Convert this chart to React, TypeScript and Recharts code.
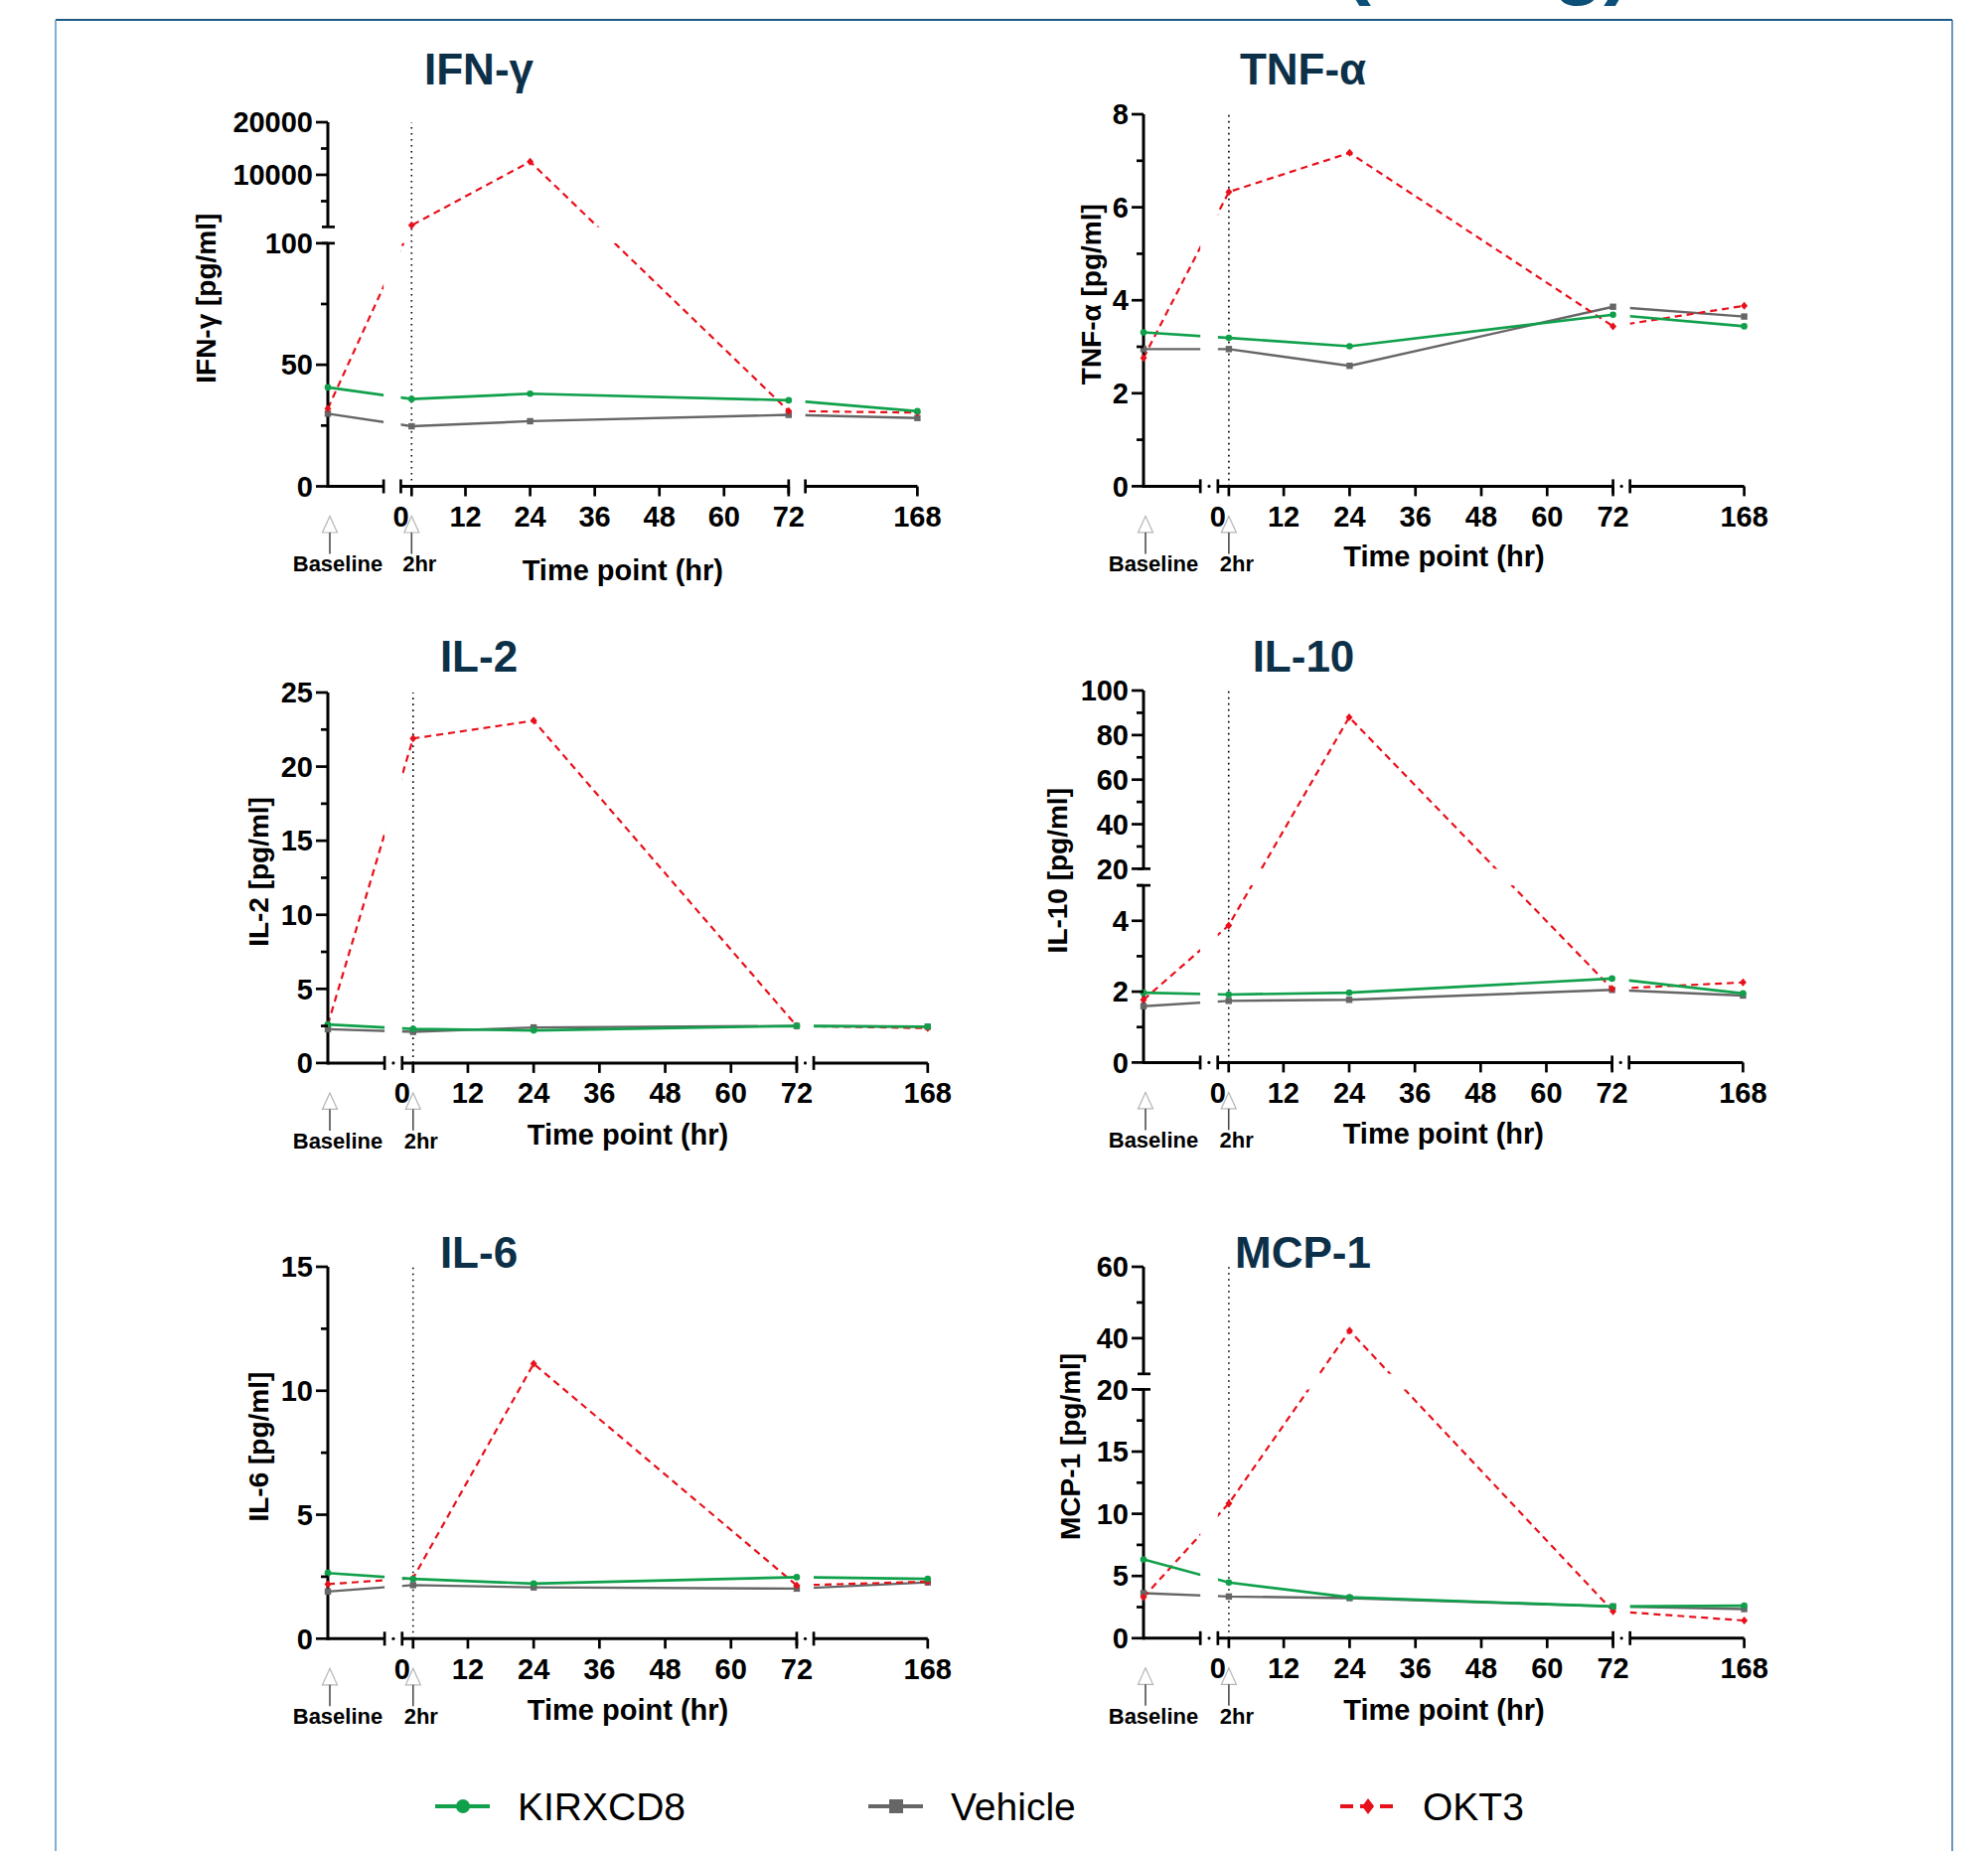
import React from 'react'
import { LineChart, Line, XAxis, YAxis, ReferenceLine, ReferenceArea } from 'recharts'

const FONT = "'Liberation Sans', Arial, Helvetica, sans-serif"
const GREEN = '#10a04b'
const GRAY = '#666666'
const RED = '#e8101a'
const NAVY = '#0d3049'

// sampling times (Baseline = pre-dose)
const timepoints: (string | number)[] = ['Baseline', 2, 24, 72, 168]
const groups = ['KIRXCD8', 'Vehicle', 'OKT3']
const xTickHours = [0, 12, 24, 36, 48, 60, 72, 168]

// pg/ml, one value per timepoint
const ifngKirxcd8 = [40.7, 35.9, 38.1, 35.4, 30.9]
const ifngVehicle = [29.9, 24.7, 26.8, 29.4, 28.1]
const ifngOkt3 = [32, 400, 12500, 31, 30.3]
const ifngMajorTicks = [0, 50, 100, 10000, 20000]
const ifngMinorTicks = [25, 75, 5000, 15000]

const tnfKirxcd8 = [3.31, 3.19, 3.01, 3.69, 3.44]
const tnfVehicle = [2.95, 2.95, 2.59, 3.86, 3.65]
const tnfOkt3 = [2.76, 6.33, 7.17, 3.44, 3.88]
const tnfMajorTicks = [0, 2, 4, 6, 8]
const tnfMinorTicks = [1, 3, 5, 7]

const il2Kirxcd8 = [2.6, 2.3, 2.2, 2.5, 2.45]
const il2Vehicle = [2.28, 2.1, 2.4, 2.5, 2.45]
const il2Okt3 = [2.6, 21.9, 23.1, 2.5, 2.35]
const il2MajorTicks = [0, 5, 10, 15, 20, 25]
const il2MinorTicks = [2.5, 7.5, 12.5, 17.5, 22.5]

const il10Kirxcd8 = [1.97, 1.92, 1.97, 2.37, 1.95]
const il10Vehicle = [1.59, 1.74, 1.77, 2.05, 1.89]
const il10Okt3 = [1.77, 3.87, 88, 2.08, 2.26]
const il10MajorTicks = [0, 2, 4, 20, 40, 60, 80, 100]
const il10MinorTicks = [1, 3, 5, 30, 50, 70, 90]

const il6Kirxcd8 = [2.65, 2.41, 2.22, 2.48, 2.41]
const il6Vehicle = [1.9, 2.16, 2.07, 2.02, 2.27]
const il6Okt3 = [2.2, 2.44, 11.09, 2.15, 2.3]
const il6MajorTicks = [0, 5, 10, 15]
const il6MinorTicks = [2.5, 7.5, 12.5]

const mcp1Kirxcd8 = [6.33, 4.47, 3.29, 2.55, 2.61]
const mcp1Vehicle = [3.62, 3.35, 3.22, 2.55, 2.34]
const mcp1Okt3 = [3.29, 10.83, 42.1, 2.17, 1.42]
const mcp1MajorTicks = [0, 5, 10, 15, 20, 40, 60]
const mcp1MinorTicks = [2.5, 7.5, 12.5, 17.5, 50]

// broken x axis: Baseline | 0..72 | 168, expressed in "hour units" of the middle segment
const X_BASE = -13.55
const X_GAP_L = -3.2
const X_GAP_R = 75.1
const X_END = 95.9

function toU(t: string | number): number {
  if (typeof t === 'string') return X_BASE
  if (t <= 72) return t
  return X_GAP_R + ((t - 72) / (168 - 72)) * (X_END - X_GAP_R)
}

// broken y axis: each segment maps a value range to pixels above the x axis
type Seg = { v0: number; v1: number; d0: number; d1: number }

function toD(v: number, segs: Seg[]): number {
  for (let i = 0; i < segs.length; i++) {
    const s = segs[i]
    if (v <= s.v1 || i === segs.length - 1) return s.d0 + ((v - s.v0) / (s.v1 - s.v0)) * (s.d1 - s.d0)
  }
  return 0
}

interface PanelCfg {
  title: string
  axisLabel: string
  series: number[][]
  major: number[]
  minor: number[]
  segs: Seg[]
  left: number
  top: number
  width: number
  height: number
  titleX: number
  titleY: number
  labelDx: number
  timeDy: number
  breakDots: boolean
}

const panels: PanelCfg[] = [
  {
    title: 'IFN-γ', axisLabel: 'IFN-γ [pg/ml]', series: [ifngKirxcd8, ifngVehicle, ifngOkt3],
    major: ifngMajorTicks, minor: ifngMinorTicks,
    segs: [{ v0: 0, v1: 100, d0: 0, d1: 244.7 }, { v0: 100, v1: 20000, d0: 261.1, d1: 366.5 }],
    left: 329.7, top: 122.6, width: 593.4, height: 366.5, titleX: 482, titleY: 85, labelDx: 112.7, timeDy: 94.5, breakDots: false,
  },
  {
    title: 'TNF-α', axisLabel: 'TNF-α [pg/ml]', series: [tnfKirxcd8, tnfVehicle, tnfOkt3],
    major: tnfMajorTicks, minor: tnfMinorTicks,
    segs: [{ v0: 0, v1: 8, d0: 0, d1: 374.4 }],
    left: 1150.7, top: 114.7, width: 604.6, height: 374.4, titleX: 1311.5, titleY: 85, labelDx: 43, timeDy: 80.5, breakDots: true,
  },
  {
    title: 'IL-2', axisLabel: 'IL-2 [pg/ml]', series: [il2Kirxcd8, il2Vehicle, il2Okt3],
    major: il2MajorTicks, minor: il2MinorTicks,
    segs: [{ v0: 0, v1: 25, d0: 0, d1: 372.9 }],
    left: 329.7, top: 696.6, width: 603.8, height: 372.9, titleX: 482, titleY: 675.5, labelDx: 60.2, timeDy: 82, breakDots: true,
  },
  {
    title: 'IL-10', axisLabel: 'IL-10 [pg/ml]', series: [il10Kirxcd8, il10Vehicle, il10Okt3],
    major: il10MajorTicks, minor: il10MinorTicks,
    segs: [{ v0: 0, v1: 5, d0: 0, d1: 178.3 }, { v0: 20, v1: 100, d0: 195, d1: 374.4 }],
    left: 1150.7, top: 695.1, width: 603.4, height: 374.4, titleX: 1312, titleY: 675.5, labelDx: 76.7, timeDy: 82, breakDots: true,
  },
  {
    title: 'IL-6', axisLabel: 'IL-6 [pg/ml]', series: [il6Kirxcd8, il6Vehicle, il6Okt3],
    major: il6MajorTicks, minor: il6MinorTicks,
    segs: [{ v0: 0, v1: 15, d0: 0, d1: 374.3 }],
    left: 329.7, top: 1274.8, width: 603.8, height: 374.3, titleX: 482, titleY: 1276, labelDx: 60.2, timeDy: 82, breakDots: true,
  },
  {
    title: 'MCP-1', axisLabel: 'MCP-1 [pg/ml]', series: [mcp1Kirxcd8, mcp1Vehicle, mcp1Okt3],
    major: mcp1MajorTicks, minor: mcp1MinorTicks,
    segs: [{ v0: 0, v1: 20, d0: 0, d1: 250.4 }, { v0: 30, v1: 60, d0: 266, d1: 373.8 }],
    left: 1150.7, top: 1275.3, width: 604.6, height: 373.8, titleX: 1311.5, titleY: 1276, labelDx: 64.1, timeDy: 82, breakDots: true,
  },
]

type XSpec = { u: number; kind: string; text?: string }

const xSpecs: XSpec[] = [
  { u: toU(timepoints[0]), kind: 'arrow', text: String(timepoints[0]) },
  { u: X_GAP_L, kind: 'gapL' },
  { u: toU(timepoints[1]), kind: 'arrowTick', text: `${timepoints[1]}hr` },
  { u: X_GAP_R, kind: 'gapR' },
  ...xTickHours.map((h) => ({ u: toU(h), kind: h === 0 ? 'start' : h === 72 ? 'end' : 'major', text: String(h) })),
].sort((a, b) => a.u - b.u)

const tickText = { fontFamily: FONT, fontWeight: 700, fill: '#000' }

function Arrow({ x, y, text }: { x: number; y: number; text: string }) {
  return (
    <g>
      <path d={`M${x},${y + 30}L${x + 7.5},${y + 46.5}L${x - 7.5},${y + 46.5}Z`} fill="#fff" stroke="#b5b5b5" strokeWidth={1.2} />
      <line x1={x} x2={x} y1={y + 46.5} y2={y + 68} stroke="#4d4d4d" strokeWidth={1.6} />
      <text x={x + 8} y={y + 86} textAnchor="middle" fontSize={22} {...tickText}>{text}</text>
    </g>
  )
}

function XTick(props: any) {
  const { x, y, payload, pxPerU, breakDots } = props
  const spec = xSpecs.find((s) => s.u === payload.value)
  if (!spec) return null
  const tick = <line x1={x} x2={x} y1={y} y2={y + 10} stroke="#000" strokeWidth={2.7} />
  const bar = <line x1={x} x2={x} y1={y - 7} y2={y + 7} stroke="#000" strokeWidth={2.7} />
  const label = spec.text ? (
    <text x={x} y={y + 40.5} textAnchor="middle" fontSize={29} {...tickText}>{spec.text}</text>
  ) : null
  switch (spec.kind) {
    case 'arrow':
      return <Arrow x={x + 2} y={y} text={spec.text || ''} />
    case 'arrowTick':
      return <g>{tick}<Arrow x={x} y={y} text={spec.text || ''} /></g>
    case 'gapL':
      return (
        <g>
          {bar}
          {breakDots && <circle cx={x + ((0 - X_GAP_L) / 2) * pxPerU} cy={y} r={1.6} fill="#000" />}
        </g>
      )
    case 'gapR':
      return (
        <g>
          {bar}
          {breakDots && <circle cx={x - ((X_GAP_R - 72) / 2) * pxPerU} cy={y} r={1.6} fill="#000" />}
        </g>
      )
    case 'start':
      return <g>{bar}{label}</g>
    case 'end':
      return <g>{tick}{bar}{label}</g>
    default:
      return <g>{tick}{label}</g>
  }
}

type YSpec = { d: number; major?: boolean; minor?: boolean; brk?: boolean; label?: string }

function buildYSpecs(p: PanelCfg): YSpec[] {
  const m = new Map<string, YSpec>()
  const add = (d: number, patch: Partial<YSpec>) => {
    const k = d.toFixed(2)
    m.set(k, { ...(m.get(k) || { d }), ...patch })
  }
  p.major.forEach((v) => add(toD(v, p.segs), { major: true, label: String(v) }))
  p.minor.forEach((v) => add(toD(v, p.segs), { minor: true }))
  if (p.segs.length > 1) {
    add(p.segs[0].d1, { brk: true })
    add(p.segs[1].d0, { brk: true })
  }
  return Array.from(m.values()).sort((a, b) => a.d - b.d)
}

function YTick(props: any) {
  const { x, y, payload, specs } = props
  const s: YSpec | undefined = specs.find((t: YSpec) => t.d.toFixed(2) === Number(payload.value).toFixed(2))
  if (!s) return null
  const len = s.major ? 12 : 7
  return (
    <g>
      {(s.major || s.minor) && <line x1={x - len} x2={x} y1={y} y2={y} stroke="#000" strokeWidth={2.7} />}
      {s.brk && <line x1={x - 6} x2={x + 7} y1={y} y2={y} stroke="#000" strokeWidth={2.7} />}
      {s.label && (
        <text x={x - 15} y={y} dy="0.355em" textAnchor="end" fontSize={29} {...tickText}>{s.label}</text>
      )}
    </g>
  )
}

const circleDot = (props: any) =>
  props.cx == null ? null : <circle key={`c${props.index}`} cx={props.cx} cy={props.cy} r={3.3} fill={GREEN} />
const squareDot = (props: any) =>
  props.cx == null ? null : <rect key={`s${props.index}`} x={props.cx - 3.2} y={props.cy - 3.2} width={6.4} height={6.4} fill={GRAY} />
const diamondDot = (props: any) =>
  props.cx == null ? null : (
    <path
      key={`d${props.index}`}
      d={`M${props.cx},${props.cy - 4}L${props.cx + 3.5},${props.cy}L${props.cx},${props.cy + 4}L${props.cx - 3.5},${props.cy}Z`}
      fill={RED}
    />
  )

function Panel({ p }: { p: PanelCfg }) {
  const padL = 175
  const padR = 45
  const padT = 30
  const xAxisH = 110
  const pxPerU = p.width / (X_END - X_BASE)
  const data = timepoints.map((t, i) => ({
    u: toU(t),
    KIRXCD8: toD(p.series[0][i], p.segs),
    Vehicle: toD(p.series[1][i], p.segs),
    OKT3: toD(p.series[2][i], p.segs),
  }))
  const ySpecs = buildYSpecs(p)
  const broken = p.segs.length > 1
  const lowerTop = broken ? p.segs[0].d1 : p.height
  const axis = { stroke: '#000', strokeWidth: 3, ifOverflow: 'visible' as const, zIndex: 560 }

  return (
    <div style={{ position: 'absolute', left: p.left - padL, top: p.top - padT }}>
      <LineChart
        width={padL + p.width + padR}
        height={padT + p.height + xAxisH + 5}
        data={data}
        margin={{ top: padT, right: padR, bottom: 5, left: padL - 150 }}
      >
        <Line type="linear" dataKey="Vehicle" stroke={GRAY} strokeWidth={2.4} dot={squareDot} isAnimationActive={false} />
        <Line type="linear" dataKey="OKT3" stroke={RED} strokeWidth={2.2} strokeDasharray="7 5" dot={diamondDot} isAnimationActive={false} />
        <Line type="linear" dataKey="KIRXCD8" stroke={GREEN} strokeWidth={2.6} dot={circleDot} isAnimationActive={false} />

        {/* white bands = axis breaks */}
        <ReferenceArea x1={X_GAP_L} x2={0} y1={0} y2={p.height} fill="#fff" fillOpacity={1} stroke="none" zIndex={450} />
        <ReferenceArea x1={72} x2={X_GAP_R} y1={0} y2={p.height} fill="#fff" fillOpacity={1} stroke="none" zIndex={450} />
        {broken && (
          <ReferenceArea x1={X_BASE} x2={X_END} y1={p.segs[0].d1} y2={p.segs[1].d0} fill="#fff" fillOpacity={1} stroke="none" zIndex={450} />
        )}

        <ReferenceLine x={2} stroke="#000" strokeWidth={1.6} strokeDasharray="1.6 4.4" zIndex={560} />

        <ReferenceLine segment={[{ x: X_BASE, y: -1.5 }, { x: X_BASE, y: lowerTop }]} {...axis} />
        {broken && <ReferenceLine segment={[{ x: X_BASE, y: p.segs[1].d0 }, { x: X_BASE, y: p.height }]} {...axis} />}
        <ReferenceLine segment={[{ x: X_BASE, y: 0 }, { x: X_GAP_L, y: 0 }]} {...axis} />
        <ReferenceLine segment={[{ x: 0, y: 0 }, { x: 72, y: 0 }]} {...axis} />
        <ReferenceLine segment={[{ x: X_GAP_R, y: 0 }, { x: X_END, y: 0 }]} {...axis} />

        <XAxis
          dataKey="u"
          type="number"
          domain={[X_BASE, X_END]}
          ticks={xSpecs.map((s) => s.u)}
          interval={0}
          axisLine={false}
          tickLine={false}
          tickSize={0}
          tickMargin={0}
          height={xAxisH}
          tick={(tp: any) => <XTick {...tp} pxPerU={pxPerU} breakDots={p.breakDots} />}
          label={{
            value: 'Time point (hr)',
            content: (lp: any) => {
              const vb = lp.viewBox
              const x = vb.x + (41.2 - X_BASE) * pxPerU
              return (
                <text x={x} y={vb.y + p.timeDy} textAnchor="middle" fontSize={29} {...tickText}>
                  Time point (hr)
                </text>
              )
            },
          }}
        />
        <YAxis
          type="number"
          domain={[0, p.height]}
          ticks={ySpecs.map((s) => s.d)}
          interval={0}
          width={150}
          axisLine={false}
          tickLine={false}
          tickSize={0}
          tickMargin={0}
          tick={(tp: any) => <YTick {...tp} specs={ySpecs} />}
          label={{
            value: p.axisLabel,
            content: (lp: any) => {
              const vb = lp.viewBox
              const x = vb.x + vb.width - p.labelDx
              const y = vb.y + vb.height / 2 - 6
              return (
                <text x={x} y={y} transform={`rotate(-90 ${x} ${y})`} textAnchor="middle" fontSize={28} {...tickText}>
                  {p.axisLabel}
                </text>
              )
            },
          }}
        />
      </LineChart>
    </div>
  )
}

const legendItems = [
  { name: groups[0], color: GREEN, x: 438, marker: 'circle', dash: undefined as string | undefined },
  { name: groups[1], color: GRAY, x: 874, marker: 'square', dash: undefined as string | undefined },
  { name: groups[2], color: RED, x: 1349, marker: 'diamond', dash: '13 7' },
]

function Backdrop() {
  const ly = 1818
  return (
    <svg width={2001} height={1863} style={{ position: 'absolute', left: 0, top: 0 }}>
      {/* cut-off slide heading */}
      <text x={1352} y={-11} fontSize={84} fontWeight={700} fontFamily={FONT} fill="#0c4f78">(</text>
      <text x={1563} y={-11} fontSize={84} fontWeight={700} fontFamily={FONT} fill="#0c4f78">g)</text>

      <line x1={56} x2={1965} y1={20} y2={20} stroke="#1b5a85" strokeWidth={2} />
      <line x1={56} x2={56} y1={20} y2={1863} stroke="#5a93c4" strokeWidth={1.5} />
      <line x1={1965} x2={1965} y1={20} y2={1863} stroke="#3a76a3" strokeWidth={1.5} />

      {panels.map((p) => (
        <text key={p.title} x={p.titleX} y={p.titleY} textAnchor="middle" fontSize={44} fontWeight={700} fontFamily={FONT} fill={NAVY}>
          {p.title}
        </text>
      ))}

      {legendItems.map((it) => {
        const cx = it.x + 28
        return (
          <g key={it.name}>
            <line x1={it.x} x2={it.x + 55} y1={ly} y2={ly} stroke={it.color} strokeWidth={4} strokeDasharray={it.dash} />
            {it.marker === 'circle' && <circle cx={cx} cy={ly} r={7} fill={it.color} />}
            {it.marker === 'square' && <rect x={cx - 7} y={ly - 7} width={14} height={14} fill={it.color} />}
            {it.marker === 'diamond' && (
              <path d={`M${cx},${ly - 8}L${cx + 6},${ly}L${cx},${ly + 8}L${cx - 6},${ly}Z`} fill={it.color} />
            )}
            <text x={it.x + 83} y={ly + 13.5} fontSize={39} fontFamily={FONT} fill="#000">{it.name}</text>
          </g>
        )
      })}
    </svg>
  )
}

export default function App() {
  return (
    <div style={{ position: 'absolute', left: 0, top: 0, width: 2001, height: 1863, overflow: 'hidden', background: '#fff' }}>
      <Backdrop />
      {panels.map((p) => (
        <Panel key={p.title} p={p} />
      ))}
    </div>
  )
}
